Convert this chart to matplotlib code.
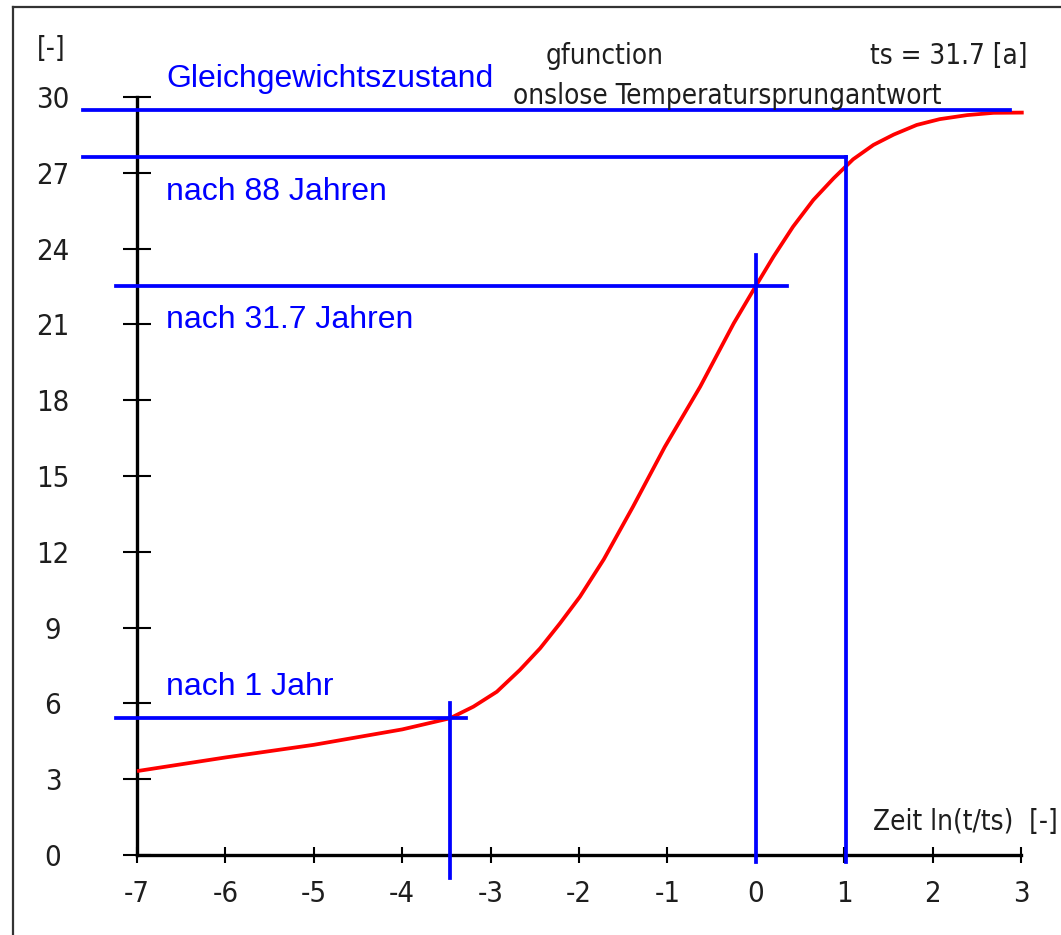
import numpy as np
import matplotlib
matplotlib.use("Agg")
from matplotlib import pyplot as plt
from matplotlib.lines import Line2D

plt.rcParams['axes.unicode_minus'] = False

# g-function: dimensionless step response over ln(t/ts)
ts = 31.7
lnt = [-7.0, -6.0, -5.0, -4.0, -3.46, -3.195, -2.93, -2.67, -2.44, -2.215, -1.99,
       -1.72, -1.39, -1.03, -0.63, -0.25, 0.0, 0.20, 0.42, 0.65, 0.88, 1.10,
       1.33, 1.56, 1.82, 2.08, 2.39, 2.69, 3.03]
g = [3.32, 3.86, 4.36, 4.97, 5.41, 5.87, 6.46, 7.32, 8.18, 9.17, 10.22,
     11.70, 13.78, 16.15, 18.53, 21.04, 22.52, 23.68, 24.86, 25.92, 26.78, 27.53,
     28.10, 28.51, 28.89, 29.12, 29.28, 29.37, 29.38]

# marked states: years after start, g value read on the curve
years = [1, 31.7, 88]
g_marks = [5.42, 22.52, 27.62]
g_eq = 29.48

xticks = list(range(-7, 4))
yticks = list(range(0, 31, 3))

gray = '#1e1e1e'
blue = '#0000ff'
narrow = ['Liberation Sans Narrow', 'DejaVu Sans']
arial = ['Liberation Sans', 'DejaVu Sans']

fig = plt.figure(figsize=(10.61, 9.35), dpi=100)
ax = fig.add_axes([0, 0, 1, 1])
ax.set_xlim(-8.550, 3.452)
ax.set_ylim(-3.166, 33.835)
ax.patch.set_visible(False)

for s in ['top', 'right']:
    ax.spines[s].set_visible(False)
ax.spines['left'].set_position(('data', -7))
ax.spines['bottom'].set_position(('data', 0))
ax.spines['left'].set_bounds(0, 30)
ax.spines['bottom'].set_bounds(-7, 3)
for s in ['left', 'bottom']:
    ax.spines[s].set_linewidth(2.4)
    ax.spines[s].set_color('black')

ax.set_xticks(xticks)
ax.set_xticklabels([str(v) for v in xticks])
ax.set_yticks(yticks)
ax.set_yticklabels([str(v) for v in yticks])
ax.tick_params(axis='y', direction='inout', length=20, width=1.5, pad=50.5,
               labelsize=21, labelcolor=gray)
ax.tick_params(axis='x', direction='inout', length=12, width=1.5, pad=12,
               labelsize=21, labelcolor=gray)
for lab in ax.get_yticklabels() + ax.get_xticklabels():
    lab.set_fontfamily(narrow)
    lab.set_fontstretch('condensed')
for lab in ax.get_yticklabels():
    lab.set_horizontalalignment('center')

# curve
ax.plot(lnt, g, color='#ff0000', lw=2.7, zorder=3, solid_capstyle='butt')

# guide lines
x1, x31, x88 = [np.log(y / ts) for y in years]
lw = 2.7
ax.plot([-7.61, 2.876], [g_eq, g_eq], color=blue, lw=lw, zorder=4)
ax.plot([-7.61, x88], [g_marks[2], g_marks[2]], color=blue, lw=lw, zorder=4)
ax.plot([x88, x88], [g_marks[2], -0.28], color=blue, lw=lw, zorder=4)
ax.plot([-7.24, 0.353], [g_marks[1], g_marks[1]], color=blue, lw=lw, zorder=4)
ax.plot([x31, x31], [23.74, -0.28], color=blue, lw=lw, zorder=4)
ax.plot([-7.24, -3.28], [g_marks[0], g_marks[0]], color=blue, lw=lw, zorder=4)
ax.plot([x1, x1], [6.0, -0.91], color=blue, lw=lw, zorder=4)

labels = ['Gleichgewichtszustand', 'nach 88 Jahren', 'nach 31.7 Jahren', 'nach 1 Jahr']
label_y = [30.39, 25.92, 20.85, 6.33]
for txt, yy in zip(labels, label_y):
    ax.text(-6.67, yy, txt, color=blue, fontsize=23, family=arial, va='baseline')

# header texts, placed in pixels of the figure
W, H = 1061, 935
def fx(px):
    return px / W
def fy(py):
    return 1 - py / H

hdr = dict(color=gray, fontsize=20, family=narrow, fontstretch='condensed')
fig.text(fx(37), fy(49), '[-]', va='center', ha='left', **hdr)
fig.text(fx(546), fy(64), 'gfunction', va='baseline', ha='left', **hdr)
fig.text(fx(1028), fy(64), 'ts = 31.7 [a]', va='baseline', ha='right', **hdr)
fig.text(fx(513), fy(104), 'onslose Temperatursprungantwort', va='baseline',
         ha='left', **hdr)
fig.text(fx(1058), fy(830), 'Zeit ln(t/ts)  [-]', va='baseline', ha='right', **hdr)

# window frame
fig.add_artist(Line2D([fx(13), fx(13)], [fy(7), 0], color='#333333', lw=1.6))
fig.add_artist(Line2D([fx(13), 1], [fy(7), fy(7)], color='#333333', lw=1.6))

fig.savefig('out.png', dpi=100)
